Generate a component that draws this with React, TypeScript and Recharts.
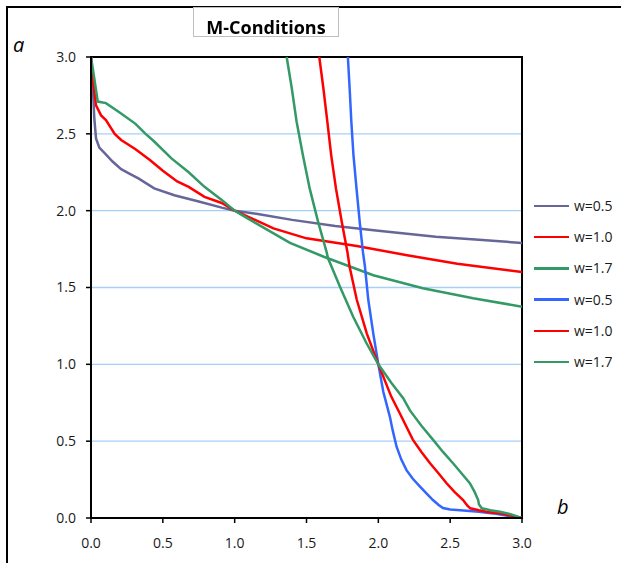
import React from 'react';
import { LineChart, Line, XAxis, YAxis, CartesianGrid, ReferenceArea } from 'recharts';

// first family: a falls slowly with b
const lowW05B = [0, 0.012, 0.023, 0.035, 0.058, 0.1, 0.15, 0.21, 0.27, 0.33, 0.44, 0.58, 0.75, 0.91, 1.0, 1.15, 1.4, 1.7, 2.0, 2.4, 2.7, 3.0];
const lowW05A = [3.0, 2.82, 2.6, 2.47, 2.41, 2.37, 2.32, 2.27, 2.24, 2.21, 2.145, 2.1, 2.06, 2.02, 2.0, 1.98, 1.94, 1.9, 1.87, 1.83, 1.81, 1.79];

const lowW10B = [0, 0.012, 0.035, 0.07, 0.104, 0.165, 0.21, 0.31, 0.41, 0.5, 0.6, 0.68, 0.79, 0.91, 1.0, 1.27, 1.5, 1.85, 2.2, 2.55, 3.0];
const lowW10A = [3.0, 2.86, 2.685, 2.62, 2.59, 2.5, 2.46, 2.4, 2.33, 2.26, 2.19, 2.155, 2.09, 2.05, 2.0, 1.885, 1.82, 1.77, 1.71, 1.655, 1.6];

const lowW17B = [0, 0.023, 0.047, 0.104, 0.197, 0.31, 0.38, 0.44, 0.56, 0.68, 0.79, 0.91, 1.0, 1.09, 1.15, 1.385, 1.62, 1.965, 2.31, 2.66, 3.0];
const lowW17A = [3.0, 2.86, 2.71, 2.7, 2.64, 2.565, 2.5, 2.45, 2.34, 2.25, 2.155, 2.07, 2.0, 1.95, 1.917, 1.79, 1.7, 1.58, 1.495, 1.43, 1.375];

// second family: steep curves through (2, 1)
const highW05B = [1.788, 1.8, 1.812, 1.827, 1.848, 1.87, 1.893, 1.907, 1.93, 1.965, 2.0, 2.035, 2.08, 2.1, 2.127, 2.16, 2.197, 2.24, 2.29, 2.34, 2.38, 2.42, 2.45, 2.5, 2.57, 2.7, 2.8, 2.9, 3.0];
const highW05A = [3.0, 2.8, 2.58, 2.36, 2.145, 1.93, 1.73, 1.635, 1.42, 1.2, 1.0, 0.82, 0.66, 0.57, 0.464, 0.38, 0.31, 0.255, 0.204, 0.155, 0.117, 0.085, 0.065, 0.055, 0.05, 0.04, 0.03, 0.015, 0.0];

const highW10B = [1.589, 1.617, 1.645, 1.672, 1.705, 1.745, 1.785, 1.8, 1.85, 1.92, 2.0, 2.09, 2.15, 2.24, 2.3, 2.36, 2.42, 2.475, 2.53, 2.59, 2.62, 2.64, 2.7, 2.75, 2.85, 3.0];
const highW10A = [3.0, 2.8, 2.58, 2.36, 2.145, 1.93, 1.73, 1.635, 1.42, 1.2, 1.0, 0.79, 0.68, 0.51, 0.43, 0.356, 0.29, 0.226, 0.17, 0.117, 0.08, 0.063, 0.05, 0.041, 0.03, 0.0];

const highW17B = [1.362, 1.397, 1.431, 1.475, 1.522, 1.58, 1.64, 1.65, 1.733, 1.825, 1.918, 2.0, 2.09, 2.173, 2.22, 2.3, 2.38, 2.45, 2.52, 2.58, 2.637, 2.67, 2.695, 2.7, 2.72, 2.78, 2.846, 2.92, 3.0];
const highW17A = [3.0, 2.8, 2.58, 2.36, 2.145, 1.93, 1.73, 1.69, 1.505, 1.31, 1.137, 1.0, 0.88, 0.78, 0.7, 0.6, 0.51, 0.43, 0.356, 0.29, 0.226, 0.17, 0.117, 0.09, 0.063, 0.05, 0.041, 0.025, 0.0];

const seriesNames = ['w=0.5', 'w=1.0', 'w=1.7', 'w=0.5', 'w=1.0', 'w=1.7'];
const seriesColors = ['#666699', '#ff0000', '#339966', '#3366ff', '#ff0000', '#339966'];
const axisTicks = [0, 0.5, 1.0, 1.5, 2.0, 2.5, 3.0];
const gridValues = [0.5, 1.0, 1.5, 2.0, 2.5];

const zip = (bs: number[], as: number[]) => bs.map((b, i) => ({ b, a: as[i] }));

const series = [
  zip(lowW05B, lowW05A),
  zip(lowW10B, lowW10A),
  zip(lowW17B, lowW17A),
  zip(highW05B, highW05A),
  zip(highW10B, highW10A),
  zip(highW17B, highW17A),
];

const font = '"Open Sans", sans-serif';
const tickStyle = { fontSize: 14, fill: '#1a1a1a', fontFamily: font };

export default function App() {
  return (
    <div style={{ position: 'relative', width: 613, height: 555, background: '#fff', fontFamily: font }}>
      {/* outer frame, top and left edges only */}
      <div style={{ position: 'fixed', left: 6, top: 6, width: 615, height: 2, background: '#000', zIndex: 5 }} />
      <div style={{ position: 'fixed', left: 6, top: 6, width: 2, height: 557, background: '#000', zIndex: 5 }} />

      <div style={{ position: 'absolute', left: 0, top: 0 }}>
        <LineChart width={613} height={555} margin={{ top: 49, right: 99, bottom: 15, left: 43 }}>
          <CartesianGrid horizontal vertical={false} stroke="#a6d0f7" strokeWidth={1.3} horizontalValues={gridValues} />
          <XAxis
            type="number"
            dataKey="b"
            domain={[0, 3]}
            ticks={axisTicks}
            tickFormatter={(v: number) => v.toFixed(1)}
            height={30}
            tickSize={5}
            tickMargin={15}
            tick={tickStyle}
            axisLine={{ stroke: '#000', strokeWidth: 2 }}
            tickLine={{ stroke: '#000', strokeWidth: 1.5 }}
            allowDataOverflow
          />
          <YAxis
            type="number"
            dataKey="a"
            domain={[0, 3]}
            ticks={axisTicks}
            tickFormatter={(v: number) => v.toFixed(1)}
            width={40}
            tickSize={5}
            tickMargin={10}
            tick={tickStyle}
            axisLine={{ stroke: '#000', strokeWidth: 2 }}
            tickLine={{ stroke: '#000', strokeWidth: 1.5 }}
            allowDataOverflow
          />
          <ReferenceArea x1={0} x2={3} y1={0} y2={3} fill="none" stroke="#000" strokeWidth={2} ifOverflow="visible" />
          {series.map((pts, i) => (
            <Line
              key={i}
              data={pts}
              dataKey="a"
              type="linear"
              stroke={seriesColors[i]}
              strokeWidth={2.5}
              dot={false}
              activeDot={false}
              isAnimationActive={false}
              name={seriesNames[i]}
            />
          ))}
        </LineChart>
      </div>

      <div
        style={{
          position: 'fixed',
          left: 193,
          top: 7,
          width: 144,
          height: 28,
          border: '1px solid #bfbfbf',
          background: '#fff',
          textAlign: 'center',
          fontWeight: 700,
          fontSize: 18,
          lineHeight: '18px',
          zIndex: 6,
        }}
      >
        <div style={{ paddingTop: 10 }}>M-Conditions</div>
      </div>

      <div style={{ position: 'absolute', left: 5, top: 27, fontSize: 20, lineHeight: '20px', fontStyle: 'italic' }}>a</div>
      <div style={{ position: 'absolute', left: 549, top: 489, fontSize: 20, lineHeight: '20px', fontStyle: 'italic' }}>b</div>

      {seriesNames.map((name, i) => (
        <div key={i} style={{ position: 'absolute', left: 526, top: 198 + i * 31.2 - 10, height: 20, display: 'flex', alignItems: 'center' }}>
          <div style={{ width: 35, height: 2.5, background: seriesColors[i] }} />
          <div style={{ marginLeft: 5, fontSize: 14, color: '#1a1a1a', lineHeight: '20px' }}>{name}</div>
        </div>
      ))}
    </div>
  );
}
